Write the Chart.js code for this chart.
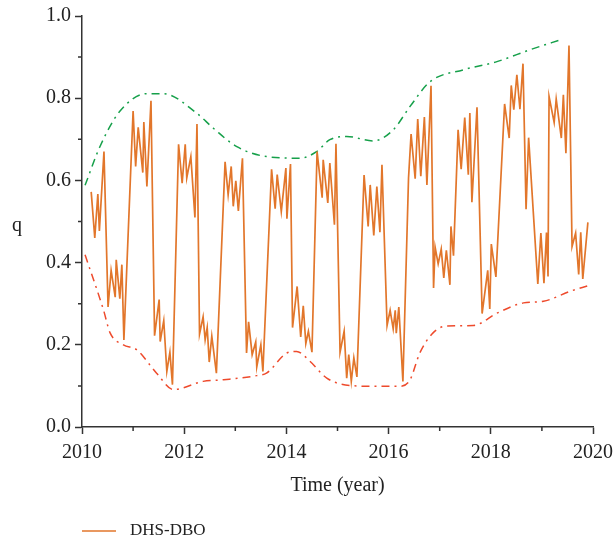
<!DOCTYPE html>
<html>
<head>
<meta charset="utf-8">
<script src="https://cdn.jsdelivr.net/npm/chart.js@4/dist/chart.umd.min.js"></script>
<style>
  html, body { margin: 0; padding: 0; background: #fff; }
  #wrap { width: 613px; height: 543px; }
</style>
</head>
<body>
<div id="wrap"><canvas id="chart" width="613" height="543"></canvas></div>
<script>
// DHS-DBO series: time (year) and q
var dboYears = [
  2010.18, 2010.25, 2010.31, 2010.34, 2010.43, 2010.51, 2010.57, 2010.65, 2010.67, 2010.74,
  2010.78, 2010.82, 2011.00, 2011.05, 2011.10, 2011.19, 2011.21, 2011.27, 2011.35, 2011.42,
  2011.51, 2011.53, 2011.60, 2011.66, 2011.72, 2011.77, 2011.89, 2011.96, 2012.02, 2012.05,
  2012.13, 2012.21, 2012.25, 2012.30, 2012.37, 2012.41, 2012.45, 2012.49, 2012.54, 2012.63,
  2012.80, 2012.86, 2012.92, 2012.96, 2013.01, 2013.06, 2013.14, 2013.22, 2013.26, 2013.33,
  2013.40, 2013.42, 2013.50, 2013.54, 2013.71, 2013.78, 2013.82, 2013.90, 2013.99, 2014.01,
  2014.08, 2014.12, 2014.21, 2014.28, 2014.33, 2014.38, 2014.43, 2014.50, 2014.60, 2014.70,
  2014.72, 2014.81, 2014.85, 2014.94, 2014.97, 2015.05, 2015.13, 2015.18, 2015.22, 2015.27,
  2015.32, 2015.38, 2015.52, 2015.60, 2015.64, 2015.71, 2015.77, 2015.83, 2015.87, 2015.97,
  2016.03, 2016.09, 2016.13, 2016.15, 2016.20, 2016.28, 2016.39, 2016.44, 2016.52, 2016.57,
  2016.63, 2016.70, 2016.75, 2016.83, 2016.88, 2016.91, 2016.97, 2017.03, 2017.08, 2017.13,
  2017.20, 2017.22, 2017.27, 2017.36, 2017.42, 2017.49, 2017.56, 2017.59, 2017.63, 2017.73,
  2017.83, 2017.94, 2017.98, 2018.01, 2018.10, 2018.27, 2018.36, 2018.40, 2018.45, 2018.51,
  2018.57, 2018.63, 2018.69, 2018.74, 2018.92, 2018.98, 2019.04, 2019.09, 2019.12, 2019.14,
  2019.24, 2019.28, 2019.38, 2019.42, 2019.47, 2019.53, 2019.59, 2019.66, 2019.72, 2019.76,
  2019.80, 2019.90
];
var dboQ = [
  0.572, 0.460, 0.567, 0.477, 0.670, 0.292, 0.381, 0.316, 0.407, 0.312,
  0.395, 0.212, 0.769, 0.634, 0.729, 0.619, 0.742, 0.585, 0.794, 0.222,
  0.310, 0.208, 0.259, 0.135, 0.182, 0.103, 0.688, 0.593, 0.688, 0.606,
  0.658, 0.510, 0.737, 0.226, 0.268, 0.212, 0.242, 0.158, 0.221, 0.131,
  0.645, 0.565, 0.634, 0.537, 0.599, 0.526, 0.654, 0.180, 0.256, 0.176,
  0.207, 0.146, 0.200, 0.135, 0.627, 0.531, 0.614, 0.524, 0.630, 0.507,
  0.640, 0.242, 0.342, 0.219, 0.295, 0.203, 0.233, 0.182, 0.670, 0.558,
  0.650, 0.545, 0.642, 0.492, 0.689, 0.182, 0.233, 0.119, 0.176, 0.111,
  0.168, 0.122, 0.613, 0.488, 0.589, 0.466, 0.585, 0.474, 0.638, 0.247,
  0.284, 0.239, 0.284, 0.228, 0.292, 0.111, 0.606, 0.713, 0.604, 0.749,
  0.610, 0.754, 0.589, 0.830, 0.338, 0.438, 0.397, 0.433, 0.363, 0.430,
  0.346, 0.488, 0.417, 0.723, 0.627, 0.753, 0.614, 0.764, 0.547, 0.778,
  0.276, 0.381, 0.287, 0.445, 0.365, 0.786, 0.703, 0.831, 0.772, 0.857,
  0.773, 0.884, 0.530, 0.704, 0.348, 0.472, 0.350, 0.473, 0.366, 0.804,
  0.741, 0.798, 0.703, 0.808, 0.666, 0.928, 0.439, 0.472, 0.371, 0.474,
  0.360, 0.498
];

// upper envelope
var upperYears = [2010.06, 2010.35, 2010.74, 2011.27, 2011.59, 2012.24, 2012.57, 2013.03, 2013.61,
  2014.27, 2014.59, 2014.85, 2015.18, 2015.70, 2016.09, 2016.42, 2016.81, 2017.46, 2018.12,
  2018.77, 2019.41];
var upperQ = [0.588, 0.682, 0.768, 0.811, 0.811, 0.764, 0.727, 0.682, 0.658,
  0.654, 0.670, 0.699, 0.707, 0.696, 0.723, 0.780, 0.840, 0.869, 0.889,
  0.918, 0.944];

// lower envelope
var lowerYears = [2010.06, 2010.42, 2010.55, 2010.81, 2011.07, 2011.46, 2011.79, 2012.37, 2012.77,
  2013.42, 2013.61, 2014.01, 2014.20, 2014.46, 2014.79, 2015.24, 2015.77, 2016.22, 2016.42,
  2016.61, 2016.87, 2017.14, 2017.66, 2018.12, 2018.64, 2019.03, 2019.55, 2019.91];
var lowerQ = [0.419, 0.285, 0.229, 0.200, 0.188, 0.131, 0.091, 0.111, 0.115,
  0.125, 0.131, 0.180, 0.184, 0.160, 0.119, 0.101, 0.099, 0.099, 0.115,
  0.180, 0.229, 0.246, 0.247, 0.277, 0.302, 0.306, 0.330, 0.344];

var xMinorTicks = [2011, 2013, 2015, 2017, 2019];
var yMinorTicks = [0.1, 0.3, 0.5, 0.7, 0.9];

var FONT = "'Liberation Serif', 'Times New Roman', serif";
var AXIS = '#333333';

function pts(xs, ys) {
  return xs.map(function (x, i) { return { x: x, y: ys[i] }; });
}

// short minor ticks, the upright "q" and the legend
var extras = {
  id: 'extras',
  afterDraw: function (chart) {
    var ctx = chart.ctx;
    var xs = chart.scales.x, ys = chart.scales.y;
    var area = chart.chartArea;
    ctx.save();
    ctx.strokeStyle = AXIS;
    ctx.lineWidth = 1.5;
    ctx.beginPath();
    xMinorTicks.forEach(function (v) {
      var px = xs.getPixelForValue(v);
      ctx.moveTo(px, area.bottom);
      ctx.lineTo(px, area.bottom + 4);
    });
    yMinorTicks.forEach(function (v) {
      var py = ys.getPixelForValue(v);
      ctx.moveTo(area.left, py);
      ctx.lineTo(area.left - 4, py);
    });
    ctx.stroke();

    ctx.fillStyle = '#222';
    ctx.font = '20px ' + FONT;
    ctx.textAlign = 'center';
    ctx.textBaseline = 'middle';
    ctx.fillText('q', 17, ys.getPixelForValue(0.5) + 4);

    var ds = chart.data.datasets[0];
    var ly = 531;
    ctx.strokeStyle = ds.borderColor;
    ctx.lineWidth = 1.5;
    ctx.beginPath();
    ctx.moveTo(82, ly);
    ctx.lineTo(116, ly);
    ctx.stroke();
    ctx.textAlign = 'left';
    ctx.font = '17px ' + FONT;
    ctx.fillText(ds.label, 130, ly);
    ctx.restore();
  }
};

new Chart(document.getElementById('chart'), {
  type: 'line',
  data: {
    datasets: [
      {
        label: 'DHS-DBO',
        data: pts(dboYears, dboQ),
        borderColor: '#e2762b',
        borderWidth: 1.7,
        pointRadius: 0,
        tension: 0
      },
      {
        label: 'upper',
        data: pts(upperYears, upperQ),
        borderColor: '#16a04a',
        borderWidth: 1.5,
        borderDash: [8, 5, 2, 5],
        pointRadius: 0,
        cubicInterpolationMode: 'monotone'
      },
      {
        label: 'lower',
        data: pts(lowerYears, lowerQ),
        borderColor: '#ee4a2c',
        borderWidth: 1.5,
        borderDash: [8, 5, 2, 5],
        pointRadius: 0,
        cubicInterpolationMode: 'monotone'
      }
    ]
  },
  options: {
    responsive: false,
    animation: false,
    layout: { padding: { top: 16, right: 20, bottom: 40, left: 0 } },
    plugins: {
      legend: { display: false },
      tooltip: { enabled: false }
    },
    scales: {
      x: {
        type: 'linear',
        min: 2010,
        max: 2020,
        afterFit: function (s) {
          s.height = 76;
          s.paddingLeft = 0;
          s.paddingRight = 0;
        },
        border: { color: AXIS, width: 1.5 },
        grid: { drawOnChartArea: false, tickLength: 7, tickColor: AXIS, tickWidth: 1.5 },
        ticks: {
          stepSize: 2,
          padding: 7,
          color: '#222',
          font: { family: FONT, size: 20 },
          maxRotation: 0,
          callback: function (v) { return String(v); }
        },
        title: {
          display: true,
          text: 'Time (year)',
          color: '#222',
          font: { family: FONT, size: 20 },
          padding: { top: 0, bottom: 5 }
        }
      },
      y: {
        min: 0,
        max: 1,
        afterFit: function (s) {
          s.width = 82;
          s.paddingTop = 0;
          s.paddingBottom = 0;
        },
        border: { color: AXIS, width: 1.5 },
        grid: { drawOnChartArea: false, tickLength: 7, tickColor: AXIS, tickWidth: 1.5 },
        ticks: {
          stepSize: 0.2,
          padding: 4,
          color: '#222',
          font: { family: FONT, size: 20 },
          callback: function (v) { return v.toFixed(1); }
        }
      }
    }
  },
  plugins: [extras]
});
</script>
</body>
</html>
